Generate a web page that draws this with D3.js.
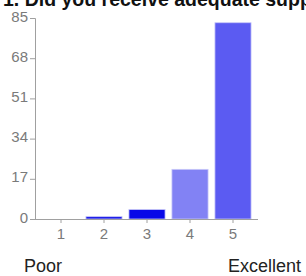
<!DOCTYPE html>
<html>
<head>
<meta charset="utf-8">
<script src="https://cdn.jsdelivr.net/npm/d3@7"></script>
<style>
  body { margin: 0; background: #fff; }
  svg { display: block; font-family: "Liberation Sans", Arial, sans-serif; }
</style>
</head>
<body>
<div id="chart"></div>
<script>
var categories = ["1", "2", "3", "4", "5"];
var counts = [0, 1, 4, 21, 83];
var yTicks = [0, 17, 34, 51, 68, 85];
var barColors = ["#0c0ce8", "#1a1ae8", "#0808e8", "#8282f4", "#5b5bf2"];

var width = 306, height = 276;

var svg = d3.select("#chart")
    .append("svg")
    .attr("width", width)
    .attr("height", height);

// title, clipped at the top like the original
svg.append("text")
    .attr("x", 3)
    .attr("y", 6)
    .style("font-size", "19.5px")
    .style("font-weight", "bold")
    .style("fill", "#111")
    .text("1. Did you receive adequate support?");

var x = d3.scaleBand()
    .domain(categories)
    .range([39.5, 254.5])
    .paddingInner(0.16)
    .paddingOuter(0.08);

var y = d3.scaleLinear()
    .domain([0, 85])
    .range([219, 18]);

// bars
svg.append("g")
    .selectAll("rect")
    .data(counts)
    .enter().append("rect")
    .attr("x", function(d, i) { return x(categories[i]); })
    .attr("y", function(d) { return y(d); })
    .attr("width", x.bandwidth())
    .attr("height", function(d) { return y(0) - y(d); })
    .style("fill", function(d, i) { return barColors[i]; })
    .style("stroke", "#c8c8f8")
    .style("stroke-width", 0.8);

// y axis
var yAxis = svg.append("g")
    .attr("transform", "translate(35,0)")
    .call(d3.axisLeft(y).tickValues(yTicks).tickSize(5).tickPadding(2));

yAxis.selectAll(".tick text").attr("dy", "0.2em");

// x axis
var xAxis = svg.append("g")
    .attr("transform", "translate(0,219)")
    .call(d3.axisBottom(x).tickSize(4).tickPadding(5));

xAxis.select(".domain").attr("d", "M35,0.5H258");

svg.selectAll(".domain").style("stroke", "#a0a0a0");
svg.selectAll(".tick line").style("stroke", "#a0a0a0");
svg.selectAll(".tick text")
    .style("font-size", "15px")
    .style("font-family", "'Liberation Sans', Arial, sans-serif")
    .style("fill", "#7a7a7a");

// scale end labels
svg.append("text")
    .attr("x", 24)
    .attr("y", 272)
    .style("font-size", "18px")
    .style("fill", "#222")
    .text("Poor");

svg.append("text")
    .attr("x", 228)
    .attr("y", 272)
    .style("font-size", "18px")
    .style("fill", "#222")
    .text("Excellent");
</script>
</body>
</html>
